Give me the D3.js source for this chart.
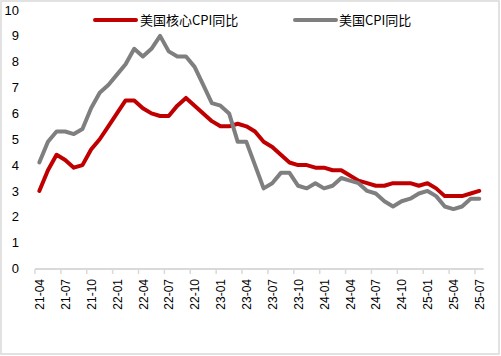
<!DOCTYPE html>
<html><head><meta charset="utf-8">
<script src="https://cdn.jsdelivr.net/npm/d3@7"></script>
<style>
html,body{margin:0;padding:0;background:#fff;}
svg{display:block;font-family:"Liberation Sans",Arial,"Noto Sans CJK SC",sans-serif;}
</style></head><body>
<svg id="c" width="501" height="356"></svg>
<script>
const months = ["21-04","21-05","21-06","21-07","21-08","21-09","21-10","21-11","21-12",
"22-01","22-02","22-03","22-04","22-05","22-06","22-07","22-08","22-09","22-10","22-11","22-12",
"23-01","23-02","23-03","23-04","23-05","23-06","23-07","23-08","23-09","23-10","23-11","23-12",
"24-01","24-02","24-03","24-04","24-05","24-06","24-07","24-08","24-09","24-10","24-11","24-12",
"25-01","25-02","25-03","25-04","25-05","25-06","25-07"];
const coreCPI = [3.0,3.8,4.4,4.2,3.9,4.0,4.6,5.0,5.5,
6.0,6.5,6.5,6.2,6.0,5.9,5.9,6.3,6.6,6.3,6.0,5.7,
5.5,5.5,5.6,5.5,5.3,4.9,4.7,4.4,4.1,4.0,4.0,3.9,
3.9,3.8,3.8,3.6,3.4,3.3,3.2,3.2,3.3,3.3,3.3,3.2,
3.3,3.1,2.8,2.8,2.8,2.9,3.0];
const headlineCPI = [4.1,4.9,5.3,5.3,5.2,5.4,6.2,6.8,7.1,
7.5,7.9,8.5,8.2,8.5,9.0,8.4,8.2,8.2,7.8,7.1,6.4,
6.3,6.0,4.9,4.9,4.0,3.1,3.3,3.7,3.7,3.2,3.1,3.3,
3.1,3.2,3.5,3.4,3.3,3.0,2.9,2.6,2.4,2.6,2.7,2.9,
3.0,2.8,2.4,2.3,2.4,2.7,2.7];
const yTicks = [0,1,2,3,4,5,6,7,8,9,10];
const seriesNames = ["美国核心CPI同比","美国CPI同比"];
const seriesColors = ["#C00000","#7F7F7F"];

const svg = d3.select("#c");
svg.append("rect").attr("x",1).attr("y",1).attr("width",498).attr("height",353)
  .attr("fill","#fff").attr("stroke","#d9d9d9").attr("stroke-width",1.5);

const x = d3.scaleBand().domain(months).range([35,483.6]).padding(0);
const y = d3.scaleLinear().domain([0,10]).range([268.5,10]);
const cx = d => x(d) + x.bandwidth()/2;

// y axis labels
svg.append("g").selectAll("text").data(yTicks).join("text")
  .attr("x",19).attr("y",d=>y(d)).attr("dy","0.35em")
  .attr("text-anchor","end").attr("font-size",13).attr("fill","#000")
  .text(d=>d);

// x axis
const xa = svg.append("g").attr("transform","translate(0,269)");
xa.append("line").attr("x1",x.range()[0]).attr("x2",x.range()[1]).attr("y1",0).attr("y2",0)
  .attr("stroke","#d9d9d9").attr("stroke-width",2);
const labMonths = months.filter((d,i)=>i%3===0);
xa.selectAll("line.tk").data(labMonths).join("line").attr("class","tk")
  .attr("x1",d=>x(d)).attr("x2",d=>x(d)).attr("y1",0).attr("y2",5)
  .attr("stroke","#d9d9d9").attr("stroke-width",1.5);
xa.selectAll("text").data(labMonths).join("text")
  .attr("transform",d=>`translate(${cx(d)+0.5},10) rotate(-90)`)
  .attr("text-anchor","end").attr("dy","0.35em")
  .attr("font-size",12).attr("fill","#000").text(d=>d);

// lines
const series = [coreCPI, headlineCPI];
const line = d3.line().x((d,i)=>cx(months[i])).y(d=>y(d));
series.forEach((s,k)=>{
  svg.append("path").datum(s).attr("d",line).attr("fill","none")
    .attr("stroke",seriesColors[k]).attr("stroke-width",4)
    .attr("stroke-linejoin","round").attr("stroke-linecap","round");
});

// legend
const lg = [{x:95,tx:140},{x:295,tx:339}];
seriesNames.forEach((n,k)=>{
  svg.append("line").attr("x1",lg[k].x).attr("x2",lg[k].x+41).attr("y1",20).attr("y2",20)
    .attr("stroke",seriesColors[k]).attr("stroke-width",4).attr("stroke-linecap","round");
  svg.append("text").attr("x",lg[k].tx).attr("y",20).attr("dy","0.36em")
    .attr("font-size",13).attr("fill","#000")
    .attr("font-family","'Noto Sans CJK SC','Liberation Sans',sans-serif")
    .text(n);
});
</script>
</body></html>
